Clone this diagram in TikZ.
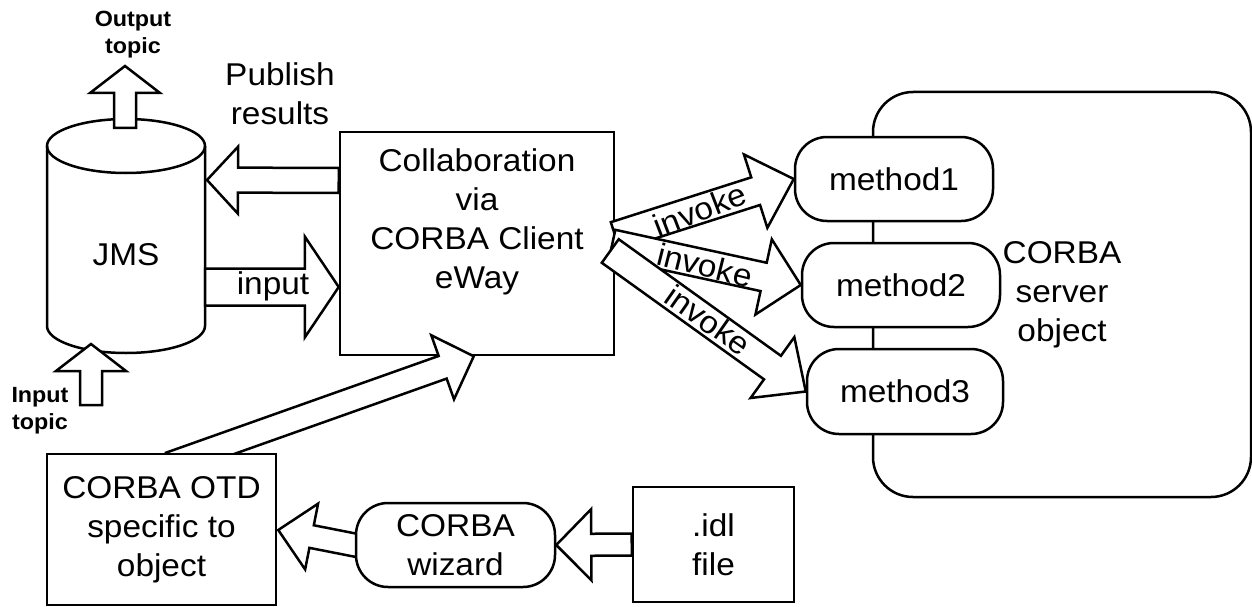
\documentclass[tikz,border=0pt]{standalone}
\usepackage{fontspec}
\setmainfont{Liberation Sans}[FakeStretch=1.06]
\usetikzlibrary{calc}

\tikzset{
  line/.style={line width=2.5pt},
  box/.style={draw, line width=2.5pt, fill=white, rectangle, inner sep=0pt},
  pill/.style={box, rounded corners=32pt},
  txt/.style={font=\fontsize{31.5}{39}\selectfont, align=center, inner sep=0pt},
  tag/.style={font=\fontsize{22}{27}\selectfont\bfseries, align=center, inner sep=0pt},
  fat/.style={draw, line width=2.5pt, fill=white, line join=miter},
}

% hollow block arrow: from, to, half shaft, half head, head length (pt)
\newcommand{\fatarrow}[5]{%
  \coordinate (fa-base) at ($(#2)!#5pt!(#1)$);
  \draw[fat] ($(#1)!#3pt!90:(#2)$) -- ($(fa-base)!#3pt!90:(#2)$) -- ($(fa-base)!#4pt!90:(#2)$) -- (#2)
    -- ($(fa-base)!#4pt!-90:(#2)$) -- ($(fa-base)!#3pt!-90:(#2)$) -- ($(#1)!#3pt!-90:(#2)$) -- cycle;}

\begin{document}
\begin{tikzpicture}[x=1pt,y=1pt,yscale=-1,xscale=1]
    \useasboundingbox (0,0) rectangle (1252,607);

    % JMS store
    \draw[line] (47,146) -- (47,326) arc[start angle=180, end angle=0, x radius=79, y radius=27] -- (205,146);
    \draw[line] (126,146) ellipse[x radius=79, y radius=27];
    \coordinate (jmsbody) at (126,236);
    \node[txt] (jms) at (126,255) {JMS};

    % collaboration
    \node[box, minimum width=274pt, minimum height=223pt] (collab) at (477,243.5) {};
    \node[txt] (collabtxt) at (477,222) {Collaboration\\via\\CORBA Client\\eWay};

    % server object
    \node[box, txt, rounded corners=40pt, minimum width=378pt, minimum height=405pt] (server) at (1062,294.5) {CORBA\\server\\object};
    \node[pill, txt, minimum width=198pt, minimum height=84pt] (method1) at (894,179) {method1};
    \node[pill, txt, minimum width=198pt, minimum height=84pt] (method2) at (901,285) {method2};
    \node[pill, txt, minimum width=196pt, minimum height=85pt] (method3) at (905,391.5) {method3};

    % OTD
    \coordinate (otdtail) at (170,464);
    \coordinate (collabin) at ($(collab.south west)+(135,0)$);
    \fatarrow{otdtail}{collabin}{12}{34}{33}
    \node[box, txt, minimum width=229pt, minimum height=151pt] (otd) at (161.5,529.5) {CORBA OTD\\specific to\\object};

    \coordinate (wiztail) at (380,550);
    \coordinate (otdin) at ($(otd.east)+(1,0.5)$);
    \fatarrow{wiztail}{otdin}{11.5}{33.5}{34}
    \node[pill, txt, minimum width=199pt, minimum height=84pt] (wizard) at (455.5,545) {CORBA\\wizard};
    \node[box, txt, minimum width=161pt, minimum height=115pt] (idl) at (713.5,544.5) {.idl\\file};
    \fatarrow{idl.west}{wizard.east}{11}{35.5}{35}

    % JMS arrows
    \coordinate (pubtail) at ($(collab.west)+(0,-63)$);
    \coordinate (pubtip) at ($(jmsbody)+(81,-56)$);
    \fatarrow{pubtail}{pubtip}{12.5}{33.5}{31}
    \coordinate (inputtail) at ($(jmsbody)+(79,51)$);
    \coordinate (inputtip) at ($(collab.west)+(0,43.5)$);
    \fatarrow{inputtail}{inputtip}{18.5}{50.5}{34}
    \node[txt] (inputlbl) at (273,286) {input};
    \node[txt] (publbl) at (280,94) {Publish\\results};

    \coordinate (outtail) at ($(jmsbody)+(-1,-108)$);
    \coordinate (outtip) at (125,66);
    \fatarrow{outtail}{outtip}{11}{35}{27}
    \node[tag] (outlbl) at (133,35) {Output\\topic};
    \coordinate (intail) at (91,405);
    \coordinate (intip) at ($(jmsbody)+(-35,108)$);
    \fatarrow{intail}{intip}{11}{35}{27}
    \node[tag] (inlbl) at (40,411) {Input\\topic};

    % invocations
    \coordinate (inv1) at ($(collab.east)+(0,-7.5)$);
    \coordinate (inv2) at ($(collab.east)+(-3,0.5)$);
    \coordinate (inv3) at ($(collab.east)+(-5,7.5)$);
    \fatarrow{inv1}{method1.west}{14.5}{38.5}{40}
    \fatarrow{inv2}{method2.west}{14.5}{38.5}{38}
    \fatarrow{inv3}{method3.west}{14.5}{37.5}{41}
    \node[txt, rotate=21] (inv1lbl) at (700,210) {invoke};
    \node[txt, rotate=-14] (inv2lbl) at (705,265) {invoke};
    \node[txt, rotate=-35] (inv3lbl) at (708,320) {invoke};
\end{tikzpicture}
\end{document}
